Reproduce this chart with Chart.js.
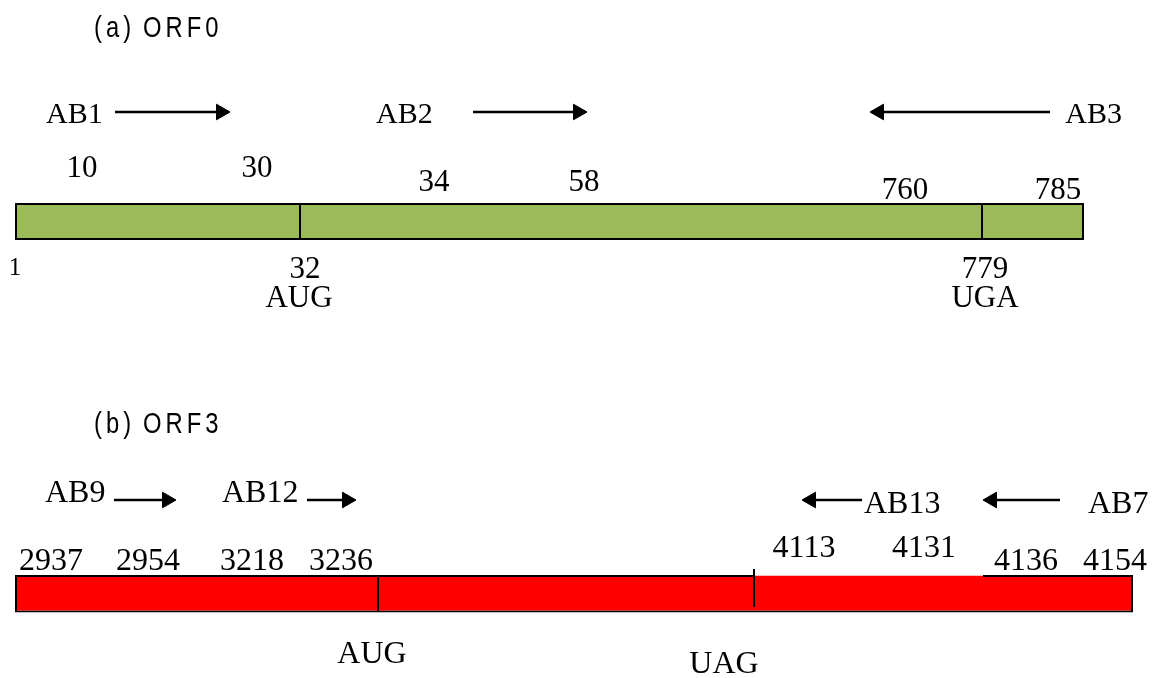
<!DOCTYPE html>
<html lang="en">
<head>
<meta charset="UTF-8">
<title>ORF0 / ORF3 primer map</title>
<style>
  html, body { margin: 0; padding: 0; background: #fff; }
  #map { display: block; }
</style>
</head>
<body>
<canvas id="map" width="1158" height="678"></canvas>

<script src="https://cdn.jsdelivr.net/npm/chart.js"></script>
<script>
// ---- data ----
const panelTitles = ['(a) ORF0', '(b) ORF3'];

const orf0Primers = ['AB1', 'AB2', 'AB3'];
const orf0Strand = [1, 1, -1];
const orf0Sites = [10, 30, 34, 58, 760, 785];
const orf0Start = [1];
const orf0CodonSites = [32, 779];
const orf0Codons = ['AUG', 'UGA'];

const orf3Primers = ['AB9', 'AB12', 'AB13', 'AB7'];
const orf3Strand = [1, 1, -1, -1];
const orf3Sites = [2937, 2954, 3218, 3236, 4113, 4131, 4136, 4154];
const orf3Codons = ['AUG', 'UAG'];

// ---- schematic layout (diagram units = x/y scale values) ----
const layoutA = {
  font: 31,
  titleY: 37,
  bar: [15, 1084], barY: 221.5, barH: 37, fill: '#9bbb59',
  dividers: [[300, 203, 240], [982, 203, 240]],
  arrowY: 112,
  arrows: [[115, 230], [473, 587], [1050, 870]],
  primerPos: [[46, 123, 'left'], [376, 123, 'left'], [1122, 123, 'right']],
  sitePos: [[82, 177], [257, 177], [434, 191], [584, 191], [905, 199], [1058, 199]],
  startPos: [[15, 275]],
  codonSitePos: [[305, 278], [985, 278]],
  codonPos: [[299, 307], [985, 307]]
};

const layoutB = {
  font: 32,
  titleY: 433,
  bar: [15, 1133], barY: 594, barH: 37, fill: '#ff0000',
  dividers: [[378, 576, 612], [754, 569, 607]],
  topEdges: [[15, 754], [983, 1133]],
  arrowY: 500,
  arrows: [[114, 176], [307, 356], [862, 802], [1060, 983]],
  primerPos: [[45, 502, 'left'], [222, 502, 'left'], [864, 513, 'left'], [1088, 513, 'left']],
  sitePos: [[51, 570], [148, 570], [252, 570], [341, 570], [804, 557], [924, 557], [1026, 570], [1115, 570]],
  codonPos: [[372, 663], [724, 673]]
};

const HEAD = 9;
const serif = '"Liberation Serif", "Times New Roman", serif';
const TITLE_SQUEEZE = 0.82;       // narrow sans look
const TITLE_WORD_X = [94, 143];   // "(a)" and "ORF0" start

function arrowDatasets(lay, strands) {
  return lay.arrows.map(([tail, tip], i) => ({
    type: 'line',
    data: [{ x: tail, y: lay.arrowY }, { x: tip - strands[i] * HEAD, y: lay.arrowY }],
    borderColor: '#000',
    borderWidth: 2.5,
    pointRadius: [0, HEAD],
    pointStyle: 'triangle',
    pointRotation: strands[i] > 0 ? 90 : 270,
    pointBackgroundColor: '#000',
    pointBorderColor: '#000',
    pointBorderWidth: 1,
    order: 0
  }));
}

function segment(x0, y0, x1, y1) {
  return {
    type: 'line',
    data: [{ x: x0, y: y0 }, { x: x1, y: y1 }],
    borderColor: '#000',
    borderWidth: 2,
    pointRadius: 0,
    order: 1
  };
}

function barDataset(lay, borderWidth) {
  return {
    type: 'bar',
    indexAxis: 'y',
    grouped: false,
    data: [{ y: lay.barY, x: lay.bar }],
    barThickness: lay.barH,
    backgroundColor: lay.fill,
    borderColor: '#000',
    borderWidth: borderWidth,
    borderSkipped: false,
    inflateAmount: 0,
    order: 5
  };
}

const datasets = [
  barDataset(layoutA, 2),
  barDataset(layoutB, { top: 0, right: 2, bottom: 2, left: 2 }),
  ...layoutA.dividers.map(([x, y0, y1]) => segment(x, y0, x, y1)),
  ...layoutB.dividers.map(([x, y0, y1]) => segment(x, y0, x, y1)),
  ...layoutB.topEdges.map(([x0, x1]) => segment(x0, layoutB.barY - layoutB.barH / 2 + 0.5, x1, layoutB.barY - layoutB.barH / 2 + 0.5)),
  ...arrowDatasets(layoutA, orf0Strand),
  ...arrowDatasets(layoutB, orf3Strand)
];

// text items built from the data arrays
const texts = [];
function addTexts(labels, pos, size, align) {
  labels.forEach((t, i) => texts.push({
    text: String(t), x: pos[i][0], y: pos[i][1],
    align: pos[i][2] || align || 'center',
    font: size + 'px ' + serif
  }));
}
addTexts(orf0Primers, layoutA.primerPos, 30);
addTexts(orf0Sites, layoutA.sitePos, layoutA.font);
addTexts(orf0Start, layoutA.startPos, 25);
addTexts(orf0CodonSites, layoutA.codonSitePos, layoutA.font);
addTexts(orf0Codons, layoutA.codonPos, layoutA.font);
addTexts(orf3Primers, layoutB.primerPos, layoutB.font);
addTexts(orf3Sites, layoutB.sitePos, layoutB.font);
addTexts(orf3Codons, layoutB.codonPos, layoutB.font);

function drawTitle(ctx, text, xs, py) {
  text.split(' ').forEach((word, i) => {
    ctx.save();
    ctx.translate(xs[i], py);
    ctx.scale(TITLE_SQUEEZE, 1);
    ctx.font = '29px "Liberation Sans", Arial, sans-serif';
    ctx.textAlign = 'left';
    ctx.letterSpacing = (4 / TITLE_SQUEEZE).toFixed(1) + 'px';
    ctx.fillText(word, 0, 0);
    ctx.restore();
  });
}

const labelPlugin = {
  id: 'diagramText',
  afterDatasetsDraw(chart) {
    const { ctx, scales: { x, y } } = chart;
    ctx.save();
    ctx.fillStyle = '#000';
    ctx.textBaseline = 'alphabetic';
    texts.forEach(t => {
      ctx.font = t.font;
      ctx.textAlign = t.align;
      ctx.fillText(t.text, x.getPixelForValue(t.x), y.getPixelForValue(t.y));
    });
    const wx = TITLE_WORD_X.map(v => x.getPixelForValue(v));
    drawTitle(ctx, panelTitles[0], wx, y.getPixelForValue(layoutA.titleY));
    drawTitle(ctx, panelTitles[1], wx, y.getPixelForValue(layoutB.titleY));
    ctx.restore();
  }
};

new Chart(document.getElementById('map'), {
  type: 'line',
  data: { datasets: datasets },
  options: {
    responsive: false,
    animation: false,
    layout: { padding: 0, autoPadding: false },
    scales: {
      x: { type: 'linear', min: 0, max: 1158, offset: false, display: false },
      y: { type: 'linear', min: 0, max: 678, reverse: true, offset: false, display: false }
    },
    plugins: {
      legend: { display: false },
      tooltip: { enabled: false }
    }
  },
  plugins: [labelPlugin]
});
</script>
</body>
</html>
